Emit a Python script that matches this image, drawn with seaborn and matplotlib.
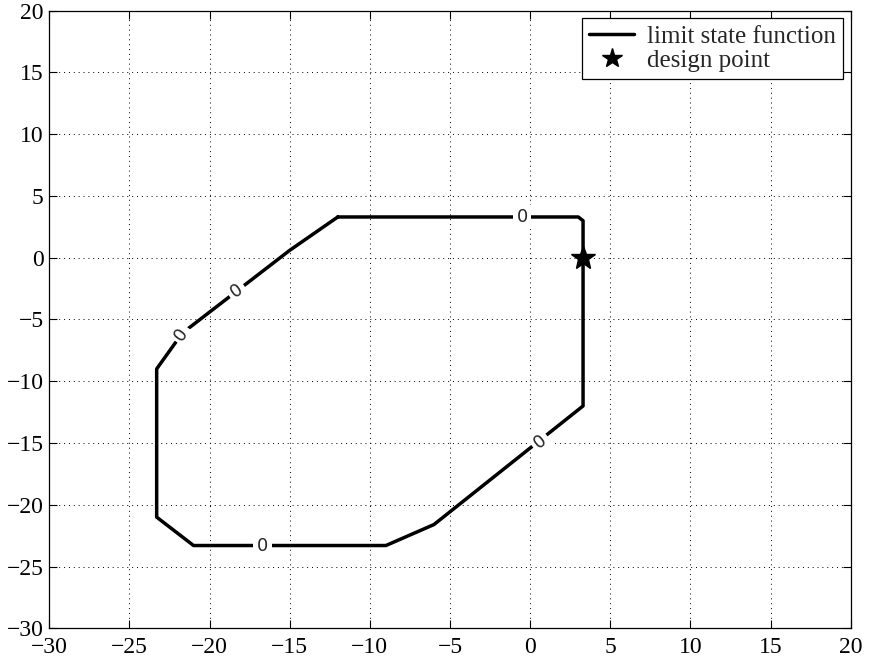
import numpy as np
import pandas as pd
import seaborn as sns
import matplotlib
matplotlib.use("Agg")
import matplotlib.pyplot as plt

# limit state function g = 0 (polygon)
g_x = [-12.0, 3.0, 3.3, 3.3, -6.0, -9.0, -21.0, -23.3, -23.3, -21.7, -15.0, -12.0]
g_y = [3.3, 3.3, 3.0, -12.0, -21.6, -23.3, -23.3, -21.0, -9.0, -6.1, 0.6, 3.3]

# design point
dp_x = [3.3]
dp_y = [0.0]

# contour label positions (clabel "0")
lab_x = [-0.5, -18.3, -21.75, -16.7, 0.6]
lab_y = [3.3, -2.7, -6.2, -23.3, -14.85]
lab_seg = [0, 10, 8, 5, 3]  # segment each label sits on (for the angle)

sns.set_style("white")
plt.rcParams["font.family"] = ["Liberation Serif", "DejaVu Serif"]

fig = plt.figure(figsize=(8.69, 6.61), dpi=100)
ax = fig.add_axes([0.0567, 0.0495, 0.9223, 0.9343])

df = pd.DataFrame({"x": g_x, "y": g_y})
sns.lineplot(data=df, x="x", y="y", sort=False, estimator=None, color="black",
             linewidth=2.5, ax=ax, label="limit state function")
ax.plot(dp_x, dp_y, linestyle="none", marker="*", color="black",
        markersize=18, label="design point")

ax.set_xlim(-30, 20)
ax.set_ylim(-30, 20)
ax.set_xticks(np.arange(-30, 21, 5))
ax.set_yticks(np.arange(-30, 21, 5))
ax.set_xticklabels([str(v).replace("-", "\u2212") for v in range(-30, 21, 5)])
ax.set_yticklabels([str(v).replace("-", "\u2212") for v in range(-30, 21, 5)])
ax.set_xlabel("")
ax.set_ylabel("")
ax.tick_params(direction="in", length=6, width=0.8, labelsize=17,
               top=True, right=True, bottom=True, left=True, colors="black")
ax.tick_params(axis="x", pad=6)
ax.tick_params(axis="y", pad=4)
ax.grid(True, linestyle=(0, (1, 4)), color="black", linewidth=0.7)
for s in ax.spines.values():
    s.set_color("black")
    s.set_linewidth(0.9)

# inline contour labels, rotated along the line
fig.canvas.draw()
for lx, ly, k in zip(lab_x, lab_y, lab_seg):
    p0 = ax.transData.transform((g_x[k], g_y[k]))
    p1 = ax.transData.transform((g_x[k + 1], g_y[k + 1]))
    ang = np.degrees(np.arctan2(p1[1] - p0[1], p1[0] - p0[0]))
    if ang > 90:
        ang -= 180
    if ang < -90:
        ang += 180
    ax.text(lx, ly, "0", rotation=ang, rotation_mode="anchor",
            ha="center", va="center", fontsize=13, family="DejaVu Sans",
            bbox=dict(facecolor="white", edgecolor="none", pad=2.5), zorder=5)

leg = ax.legend(loc="upper right", fontsize=18, frameon=True, fancybox=False,
                edgecolor="black", framealpha=1, borderaxespad=0.3,
                handlelength=1.8, handletextpad=0.5, borderpad=0.3,
                labelspacing=0.05, markerscale=0.8)
leg.get_frame().set_linewidth(0.9)

fig.savefig("out.png", dpi=100)
